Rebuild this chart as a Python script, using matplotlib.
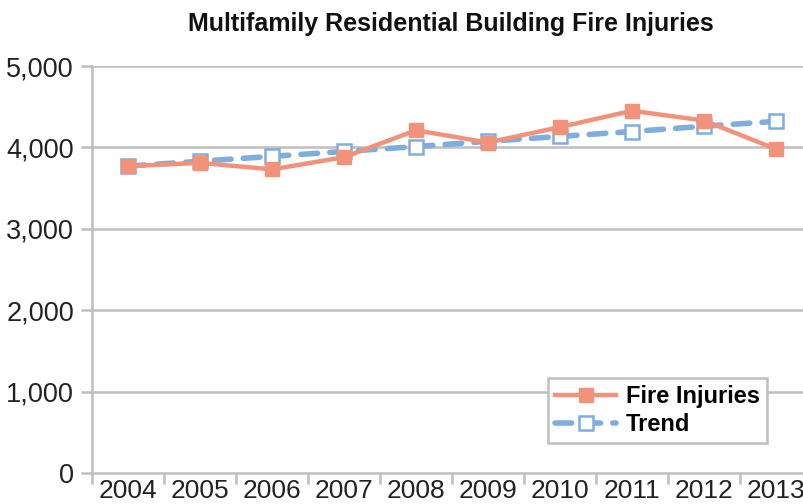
import matplotlib
matplotlib.use("Agg")
import matplotlib.pyplot as plt
import matplotlib.font_manager as fm
from matplotlib.ticker import FuncFormatter, FixedLocator

years = ["2004", "2005", "2006", "2007", "2008", "2009", "2010", "2011", "2012", "2013"]
fire_injuries = [3770, 3810, 3730, 3880, 4210, 4060, 4250, 4450, 4330, 3980]
trend = [3770, 3830, 3890, 3950, 4010, 4075, 4135, 4195, 4260, 4320]
y_ticks = [0, 1000, 2000, 3000, 4000, 5000]
title = "Multifamily Residential Building Fire Injuries"

names = {f.name for f in fm.fontManager.ttflist}
narrow = "Liberation Sans Narrow" if "Liberation Sans Narrow" in names else "Liberation Sans"

fig = plt.figure(figsize=(8.04, 5.04), dpi=100)
W, H = 804, 504
left, right, top, bottom = 92, 812, 66, 473
ax = fig.add_axes([left / W, 1 - bottom / H, (right - left) / W, (bottom - top) / H])

x = list(range(len(years)))
grid_c = "#BFBFBF"
for v in y_ticks[1:]:
    ax.axhline(v, color=grid_c, lw=1.8, zorder=1)

ax.plot(x, trend, color="#7FAEDE", lw=4, ls=(0, (3.0, 2.2)), dash_capstyle="round",
        marker="s", markersize=10, markerfacecolor="white", markeredgecolor="#7FAEDE",
        markeredgewidth=1.8, zorder=3, label="Trend")
ax.plot(x, fire_injuries, color="#F0937A", lw=3.2, marker="s", markersize=10,
        markerfacecolor="#F0937A", markeredgecolor="#F0937A", zorder=4, label="Fire Injuries")

ax.set_xlim(-0.5, len(years) - 0.5)
ax.set_ylim(0, 5000)
ax.set_yticks(y_ticks)
ax.yaxis.set_major_formatter(FuncFormatter(lambda v, p: f"{int(v):,}"))
ax.set_xticks(x)
ax.set_xticklabels(years)
ax.xaxis.set_minor_locator(FixedLocator([i - 0.5 for i in range(len(years) + 1)]))
ax.tick_params(axis="x", which="major", length=0, pad=4, labelsize=19, labelcolor="#222222")
ax.tick_params(axis="x", which="minor", length=8, width=1.8, color=grid_c, direction="out")
ax.tick_params(axis="y", length=8, width=1.8, color=grid_c, pad=5, labelsize=19.5, labelcolor="#222222")
for lab in ax.get_xticklabels() + ax.get_yticklabels():
    lab.set_family("Liberation Sans")

for s in ["top", "right"]:
    ax.spines[s].set_visible(False)
for s in ["left", "bottom"]:
    ax.spines[s].set_color(grid_c)
    ax.spines[s].set_linewidth(1.8)

fig.text(451 / W, 1 - 24 / H, title, ha="center", va="center", fontsize=18,
         fontweight="bold", family=narrow, color="#111111")

handles, labels = ax.get_legend_handles_labels()
leg = ax.legend(handles[::-1], labels[::-1], loc="lower left",
                bbox_to_anchor=((548 - left) / (right - left), (bottom - 443) / (bottom - top)),
                frameon=True, fancybox=False, edgecolor=grid_c, framealpha=1,
                prop={"family": "Liberation Sans", "weight": "bold", "size": 17},
                handlelength=2.6, borderpad=0.3, labelspacing=0.2, handletextpad=0.4,
                borderaxespad=0)
leg.get_frame().set_linewidth(1.8)
leg.set_zorder(5)

fig.savefig("out.png", dpi=100, facecolor="white")
